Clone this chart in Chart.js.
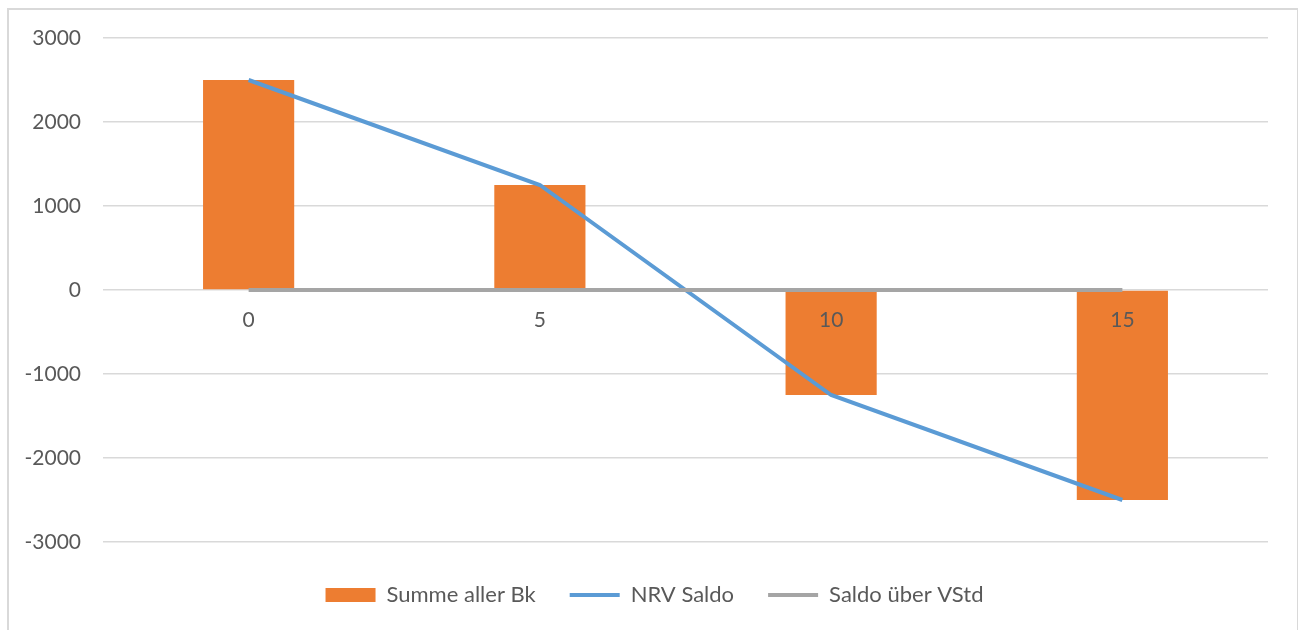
<!DOCTYPE html>
<html>
<head>
<meta charset="utf-8">
<script src="https://cdn.jsdelivr.net/npm/chart.js@4/dist/chart.umd.min.js"></script>
<style>
  html, body { margin: 0; padding: 0; background: #fff; overflow: hidden; }
  #frame { position: absolute; left: 7px; top: 8px; width: 1288px; height: 700px; border: 2px solid #d9d9d9; }
  #wrap { position: absolute; left: 0; top: 0; width: 1298px; height: 630px; }
</style>
</head>
<body>
<div id="frame"></div>
<div id="wrap"><canvas id="chart"></canvas></div>
<script>
const categories = ["0", "5", "10", "15"];
const summeAllerBk = [2500, 1250, -1250, -2500];
const nrvSaldo = [2500, 1250, -1250, -2500];
const saldoUeberVStd = [0, 0, 0, 0];
const seriesNames = ["Summe aller Bk", "NRV Saldo", "Saldo über VStd"];

const textColor = "#595959";
const gridColor = "#d9d9d9";
const fontFamily = "Lato, 'Open Sans', sans-serif";

new Chart(document.getElementById("chart"), {
  type: "bar",
  data: {
    labels: categories,
    datasets: [
      {type: "bar", label: seriesNames[0], data: summeAllerBk, backgroundColor: "#ed7d31",
       categoryPercentage: 1, barPercentage: 0.313, order: 2},
      {type: "line", label: seriesNames[1], data: nrvSaldo, borderColor: "#5b9bd5", backgroundColor: "#5b9bd5",
       borderWidth: 4, pointRadius: 0, tension: 0, order: 1},
      {type: "line", label: seriesNames[2], data: saldoUeberVStd, borderColor: "#a5a5a5", backgroundColor: "#a5a5a5",
       borderWidth: 4, pointRadius: 0, tension: 0, order: 0}
    ]
  },
  options: {
    responsive: true,
    maintainAspectRatio: false,
    animation: false,
    layout: {padding: {left: 20, right: 9, top: 38, bottom: 14}},
    plugins: {
      tooltip: {enabled: false},
      legend: {
        position: "bottom",
        title: {display: true, text: "", padding: 0, font: {size: 8, lineHeight: 1}},
        labels: {
          color: textColor,
          font: {family: fontFamily, size: 22},
          usePointStyle: true,
          pointStyleWidth: 50,
          boxHeight: 14,
          padding: 34,
          generateLabels: chart => chart.data.datasets.map((ds, i) => ({
            text: ds.label,
            datasetIndex: i,
            fillStyle: ds.backgroundColor,
            strokeStyle: ds.type === "bar" ? ds.backgroundColor : ds.borderColor,
            lineWidth: ds.type === "bar" ? 0 : ds.borderWidth,
            pointStyle: ds.type === "bar" ? "rect" : "line",
            fontColor: textColor,
            hidden: false
          }))
        }
      }
    },
    scales: {
      x: {
        position: {y: 0},
        offset: true,
        grid: {display: false},
        border: {display: false},
        // labels sit on top of the negative bars
        ticks: {z: 1, color: textColor, font: {family: fontFamily, size: 21}, padding: 10}
      },
      y: {
        min: -3000,
        max: 3000,
        afterFit: scale => { scale.width = 83; },
        grid: {color: gridColor, lineWidth: 1.5, drawTicks: false},
        border: {display: false},
        ticks: {stepSize: 1000, color: textColor, font: {family: fontFamily, size: 21}, padding: 22,
                callback: value => String(value)}
      },
      // empty right axis, only to keep the plot edge where it is
      yRight: {
        position: "right",
        grid: {display: false},
        border: {display: false},
        ticks: {display: false},
        afterFit: scale => { scale.width = 21; }
      }
    }
  }
});
</script>
</body>
</html>
